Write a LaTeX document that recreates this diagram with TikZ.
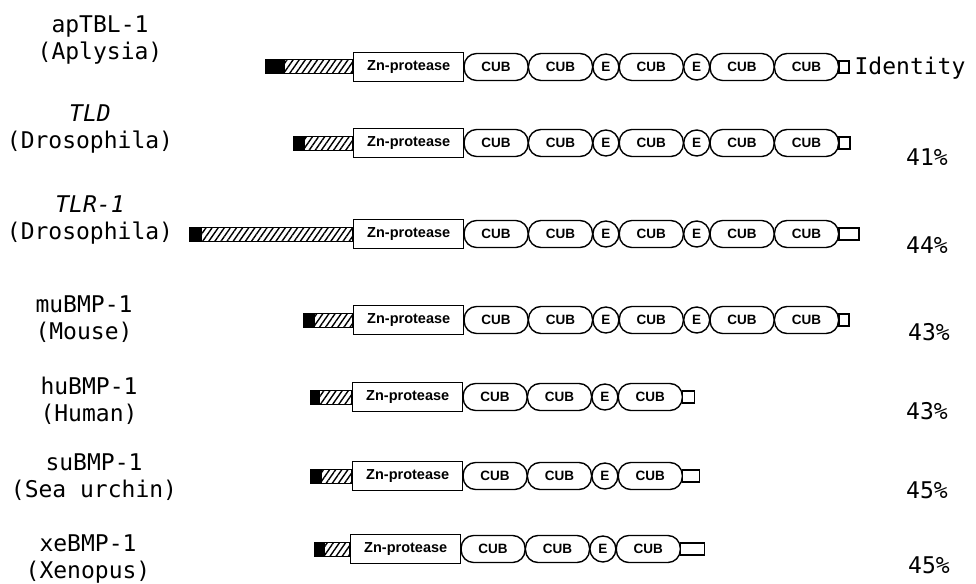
\documentclass[tikz,border=0pt]{standalone}
\usepackage{fontspec}
\newfontfamily\labelfont{DejaVu Sans Mono}
\newfontfamily\domfont{Liberation Sans}[UprightFont={* Bold}]
\usetikzlibrary{positioning, patterns.meta}
\tikzset{
    signal/.style={rectangle, fill=black, draw=black, line width=1pt, minimum height=14pt, inner sep=0pt},
    prodom/.style={rectangle, draw=black, line width=1pt, minimum height=14pt, inner sep=0pt, pattern={Lines[angle=55, distance=5pt, line width=1.4pt]}},
    zndom/.style={rectangle, draw=black, fill=white, line width=1.4pt, minimum width=110pt, minimum height=29pt, inner sep=0pt, font=\domfont\fontsize{14.5}{15}\selectfont},
    cub/.style={rectangle, rounded corners=12.5pt, draw=black, fill=white, line width=1.4pt, minimum width=64pt, minimum height=27pt, inner sep=0pt, font=\domfont\fontsize{13.5}{14}\selectfont, node contents=CUB},
    egf/.style={circle, draw=black, fill=white, line width=1.4pt, minimum size=26pt, inner sep=0pt, font=\domfont\fontsize{13.5}{14}\selectfont, node contents=E},
    ctail/.style={rectangle, draw=black, fill=white, line width=1.3pt, minimum height=12pt, inner sep=0pt},
    species/.style={align=center, font=\labelfont\fontsize{23}{27}\selectfont},
    ident/.style={font=\labelfont\fontsize{23}{27}\selectfont},
}
% one protein: name, y, Zn x, prodomain width, signal width, domains, tail width
\newcommand{\protrow}[7]{%
    \node[zndom, anchor=west] (#1-d0) at (#3,#2) {Zn-protease};
    \node[prodom, anchor=east, minimum width=#4] (#1-pro) at (#1-d0.west) {};
    \node[signal, anchor=east, minimum width=#5] (#1-sig) at (#1-pro.west) {};
    \foreach \dom [count=\i, remember=\i as \j (initially 0)] in {#6} {
        \node (#1-d\i) at ([xshift=-1pt]#1-d\j.east) [\dom, anchor=west];
        \coordinate (#1-end) at (#1-d\i.east);
    }
    \node[ctail, anchor=west, minimum width=#7] (#1-tail) at ([xshift=-1pt]#1-end) {};
}

\begin{document}
\begin{tikzpicture}[x=1pt, y=-1pt]
    \useasboundingbox (0,0) rectangle (976,583);

    % Domain structures
    \protrow{ap}{67}{353}{68pt}{18pt}{cub,cub,egf,cub,egf,cub,cub}{10pt}
    \protrow{tld}{143}{353}{48pt}{10pt}{cub,cub,egf,cub,egf,cub,cub}{11pt}
    \protrow{tlr}{234}{353}{151pt}{11pt}{cub,cub,egf,cub,egf,cub,cub}{20pt}
    \protrow{mu}{320}{353}{38pt}{10pt}{cub,cub,egf,cub,egf,cub,cub}{10pt}
    \protrow{hu}{397}{352}{32pt}{8pt}{cub,cub,egf,cub}{12pt}
    \protrow{su}{476}{352}{30pt}{10pt}{cub,cub,egf,cub}{17pt}
    \protrow{xe}{549}{350}{25pt}{9pt}{cub,cub,egf,cub}{24pt}

    % Names of the proteins
    \node[species] (ap-name) at (100,40) {apTBL-1\\(Aplysia)};
    \node[species] (tld-name) at (90,129) {\itshape TLD\\(Drosophila)};
    \node[species] (tlr-name) at (90,220) {\itshape TLR-1\\(Drosophila)};
    \node[species] (mu-name) at (84,319) {muBMP-1\\(Mouse)};
    \node[species] (hu-name) at (89,401) {huBMP-1\\(Human)};
    \node[species] (su-name) at (94,477) {suBMP-1\\(Sea urchin)};
    \node[species] (xe-name) at (88,559) {xeBMP-1\\(Xenopus)};

    % Identity column
    \node[ident] (ap-id) at (910,68) {Identity};
    \node[ident] (tld-id) at (927,157) {41\%};
    \node[ident] (tlr-id) at (927,245) {44\%};
    \node[ident] (mu-id) at (929,332) {43\%};
    \node[ident] (hu-id) at (927,411) {43\%};
    \node[ident] (su-id) at (927,490) {45\%};
    \node[ident] (xe-id) at (929,565) {45\%};
\end{tikzpicture}
\end{document}
